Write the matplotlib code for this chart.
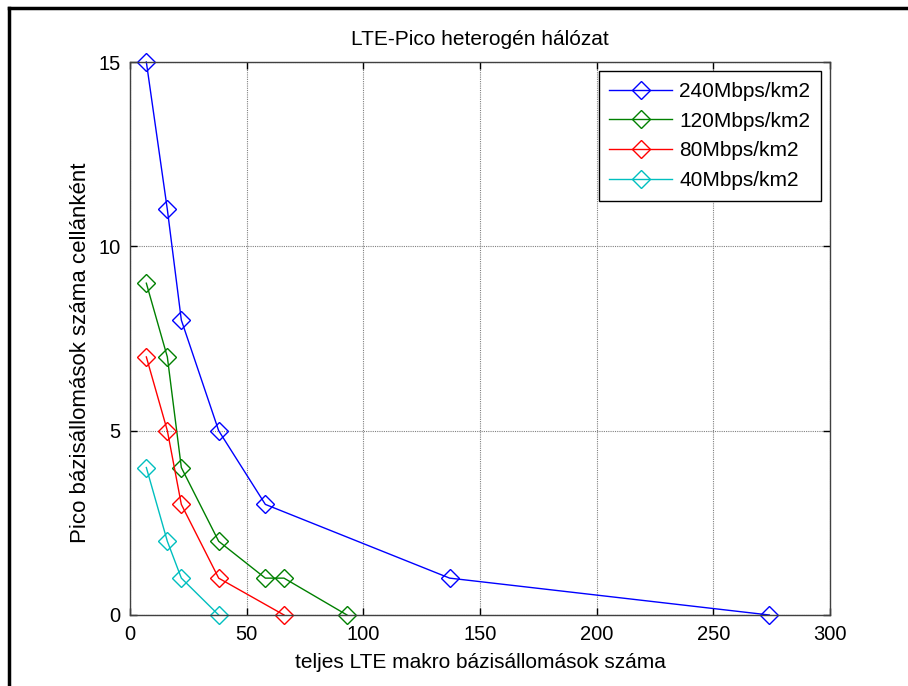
import matplotlib.pyplot as plt
from matplotlib.lines import Line2D

plt.rcParams['font.family'] = ['Liberation Sans', 'DejaVu Sans']

# data
labels = ['240Mbps/km2', '120Mbps/km2', '80Mbps/km2', '40Mbps/km2']
colors = ['#0000ff', '#008000', '#ff0000', '#00bfbf']

x_240 = [7, 16, 22, 38, 58, 137, 274]
y_240 = [15, 11, 8, 5, 3, 1, 0]

x_120 = [7, 16, 22, 38, 58, 66, 93]
y_120 = [9, 7, 4, 2, 1, 1, 0]

x_80 = [7, 16, 22, 38, 66]
y_80 = [7, 5, 3, 1, 0]

x_40 = [7, 16, 22, 38]
y_40 = [4, 2, 1, 0]

xticks = [0, 50, 100, 150, 200, 250, 300]
yticks = [0, 5, 10, 15]

fig = plt.figure(figsize=(9.08, 6.86), dpi=100)
ax = fig.add_axes([130 / 908, 1 - 615 / 686, 700 / 908, 553 / 686])

series = [(x_240, y_240), (x_120, y_120), (x_80, y_80), (x_40, y_40)]
for (xs, ys), lab, c in zip(series, labels, colors):
    ax.plot(xs, ys, color=c, lw=1, marker='D', markersize=9,
            markerfacecolor='none', markeredgecolor=c, markeredgewidth=1,
            label=lab, clip_on=False)

ax.set_xlim(0, 300)
ax.set_ylim(0, 15)
ax.set_xticks(xticks)
ax.set_yticks(yticks)
ax.grid(True, color='#808080', linestyle=(0, (1, 1)), lw=0.8)
ax.tick_params(direction='in', top=True, right=True, labelsize=14.5,
               length=5, width=1, colors='black', pad=7)
for s in ax.spines.values():
    s.set_color('#404040')
    s.set_linewidth(1)

ax.set_title('LTE-Pico heterogén hálózat', fontsize=15, pad=12)
ax.set_xlabel('teljes LTE makro bázisállomások száma', fontsize=15, labelpad=7)
ax.set_ylabel('Pico bázisállomások száma cellánként', fontsize=16)
ax.yaxis.set_label_coords(-0.056, 0.474)

leg = ax.legend(loc='upper right', fontsize=15, handlelength=3.0,
                handletextpad=0.35, fancybox=False, framealpha=1,
                edgecolor='black', borderaxespad=0.45, labelspacing=0.52,
                borderpad=0.5)
leg.get_frame().set_linewidth(1)

# outer frame of the screenshot
fig.add_artist(Line2D([9 / 908, 1], [1 - 8 / 686, 1 - 8 / 686],
                      transform=fig.transFigure, color='black', lw=2.5))
fig.add_artist(Line2D([9 / 908, 9 / 908], [0, 1 - 8 / 686],
                      transform=fig.transFigure, color='black', lw=2.5))

fig.savefig('out.png', dpi=100)
